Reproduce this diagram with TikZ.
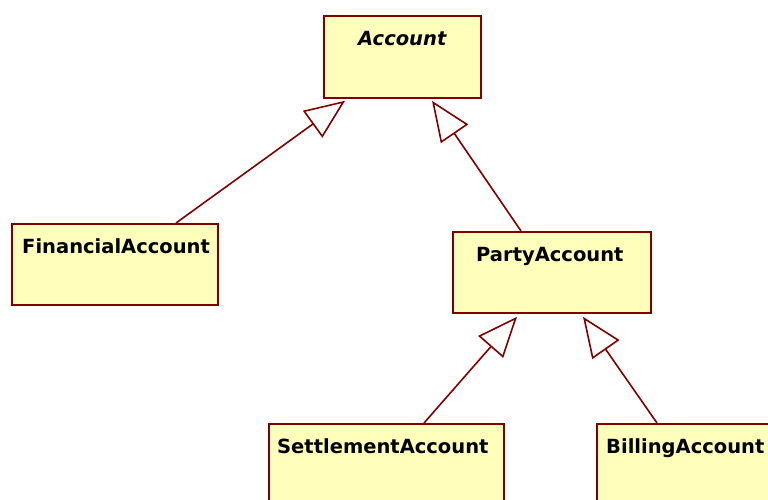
\documentclass[tikz,border=0pt]{standalone}
\usepackage{fontspec}
\setmainfont{DejaVu Sans}
\usetikzlibrary{arrows.meta}
\definecolor{umlfill}{RGB}{255,255,187}
\definecolor{umlline}{RGB}{128,0,0}
\begin{document}
\begin{tikzpicture}[x=1pt,y=-1pt,
  box/.style={draw=umlline,fill=umlfill,line width=1.8pt,anchor=north west,inner sep=0pt},
  lbl/.style={anchor=base west,inner sep=0pt,font=\fontsize{19.5}{22}\selectfont\bfseries},
  gen/.style={draw=umlline,line width=1.6pt,-{Triangle[open,length=40pt,width=33pt,fill=white]}}]
\useasboundingbox (0,0) rectangle (768,499);
\node[box,minimum width=157pt,minimum height=82pt] (acc) at (323,15) {};
\node[box,minimum width=206pt,minimum height=81pt] (fin) at (11,223) {};
\node[box,minimum width=198pt,minimum height=81pt] (party) at (452,231) {};
\node[box,minimum width=235pt,minimum height=90pt] (settle) at (268,423) {};
\node[box,minimum width=190pt,minimum height=90pt] (bill) at (596,423) {};
\node[lbl,font=\fontsize{19.5}{22}\selectfont\bfseries\itshape] (tacc) at (358,45) {Account};
\node[lbl] (tfin) at (22,253) {FinancialAccount};
\node[lbl] (tparty) at (476,261) {PartyAccount};
\node[lbl] (tsettle) at (277,453) {SettlementAccount};
\node[lbl] (tbill) at (606,453) {BillingAccount};
\draw[gen] ([xshift=165pt]fin.north west) -- ([xshift=22pt,yshift=-2pt]acc.south west);
\draw[gen] ([xshift=69pt]party.north west) -- ([xshift=109pt,yshift=-2pt]acc.south west);
\draw[gen] ([xshift=156pt]settle.north west) -- ([xshift=65pt,yshift=-3pt]party.south west);
\draw[gen] ([xshift=61pt]bill.north west) -- ([xshift=131pt,yshift=-3pt]party.south west);
\end{tikzpicture}
\end{document}
